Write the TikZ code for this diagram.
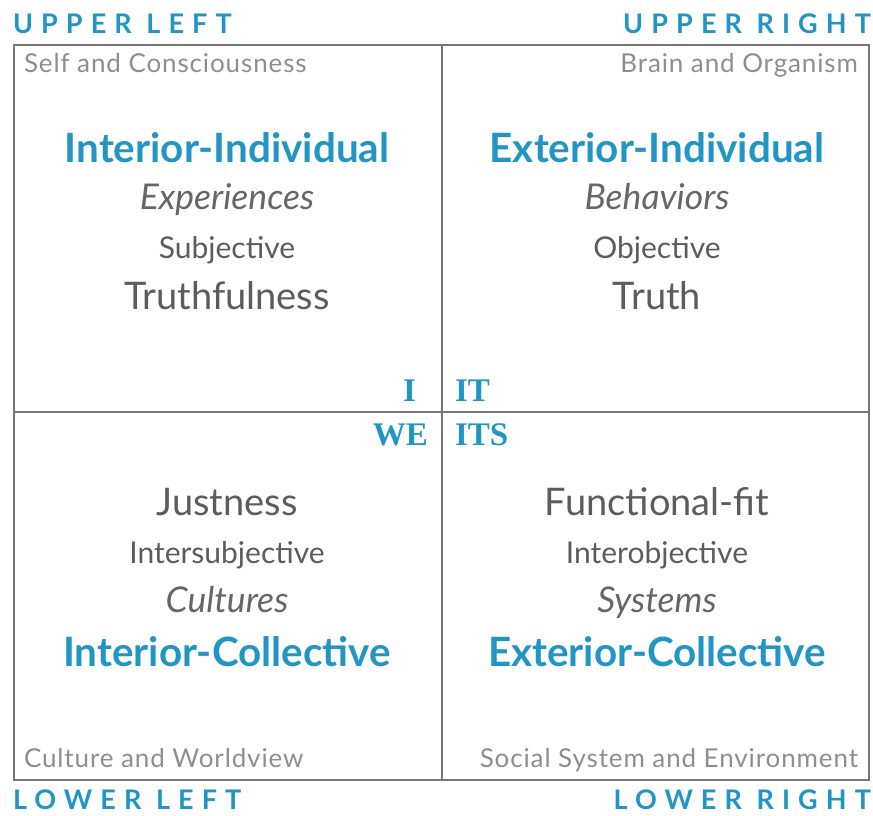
\documentclass[tikz,border=0pt]{standalone}
\usepackage{fontspec}
\setmainfont{Lato}
\newfontfamily\serifb{Liberation Serif}
\definecolor{qblue}{HTML}{2196C4}
\definecolor{qdark}{HTML}{5C5C5C}
\definecolor{qmid}{HTML}{666666}
\definecolor{qlight}{HTML}{8E8E8E}
\definecolor{qline}{HTML}{777777}
\begin{document}
\begin{tikzpicture}[x=1pt,y=-1pt,
  every node/.style={inner sep=0pt,outer sep=0pt},
  title/.style={text=qblue,font=\fontsize{40.4}{40}\selectfont\bfseries},
  emph/.style={text=qmid,font=\fontsize{35.5}{35}\selectfont\itshape},
  mode/.style={text=qdark,font=\fontsize{30}{30}\selectfont},
  claim/.style={text=qdark,font=\fontsize{38}{38}\selectfont},
  corner/.style={text=qblue,font=\fontsize{27}{27}\selectfont\bfseries\addfontfeature{LetterSpace=30}},
  small/.style={text=qlight,font=\fontsize{26}{26}\selectfont\addfontfeature{LetterSpace=3.4}},
  pron/.style={text=qblue,font=\fontsize{33}{33}\selectfont\serifb\bfseries},
  frame/.style={draw=qline,line width=2pt}]
\useasboundingbox (0,0) rectangle (873,815);
\coordinate (tl) at (14,45);
\coordinate (br) at (869,780);
\coordinate (tm) at (442,45);
\coordinate (bm) at (442,780);
\coordinate (ml) at (14,412);
\coordinate (mr) at (869,412);
\draw[frame] (tl) rectangle (br);
\draw[frame] (tm) -- (bm);
\draw[frame] (ml) -- (mr);
% corners
\node[corner,anchor=base west] (ul) at (13,33) {UPPER LEFT};
\node[corner,anchor=base east] (ur) at (871,33) {UPPER RIGHT};
\node[corner,anchor=base west] (ll) at (13,809) {LOWER LEFT};
\node[corner,anchor=base east] (lr) at (871,809) {LOWER RIGHT};
% small labels
\node[small,anchor=base west] (s1) at (24,72) {Self and Consciousness};
\node[small,anchor=base east] (s2) at (858,72) {Brain and Organism};
\node[small,anchor=base west] (s3) at (24,767) {Culture and Worldview};
\node[small,anchor=base east] (s4) at (858,767) {Social System and Environment};
% upper left
\node[title,anchor=base] (a1) at (227,162) {Interior-Individual};
\node[emph,anchor=base] (a2) at (227,209) {Experiences};
\node[mode,anchor=base] (a3) at (227,258) {Subjective};
\node[claim,anchor=base] (a4) at (227,309) {Truthfulness};
% upper right
\node[title,anchor=base] (b1) at (657,162) {Exterior-Individual};
\node[emph,anchor=base] (b2) at (657,209) {Behaviors};
\node[mode,anchor=base] (b3) at (657,258) {Objective};
\node[claim,anchor=base] (b4) at (657,309) {Truth};
% lower left
\node[claim,anchor=base] (c4) at (227,515) {Justness};
\node[mode,anchor=base] (c3) at (227,563) {Intersubjective};
\node[emph,anchor=base] (c2) at (227,612) {Cultures};
\node[title,anchor=base] (c1) at (227,666) {Interior-Collective};
% lower right
\node[claim,anchor=base] (d4) at (657,515) {Functional-fit};
\node[mode,anchor=base] (d3) at (657,563) {Interobjective};
\node[emph,anchor=base] (d2) at (657,612) {Systems};
\node[title,anchor=base] (d1) at (657,666) {Exterior-Collective};
% pronouns
\node[pron,anchor=base east] (pI) at (416,401) {I};
\node[pron,anchor=base west] (pIT) at (455,401) {IT};
\node[pron,anchor=base east] (pWE) at (428,445) {WE};
\node[pron,anchor=base west] (pITS) at (455,445) {ITS};
\end{tikzpicture}
\end{document}
